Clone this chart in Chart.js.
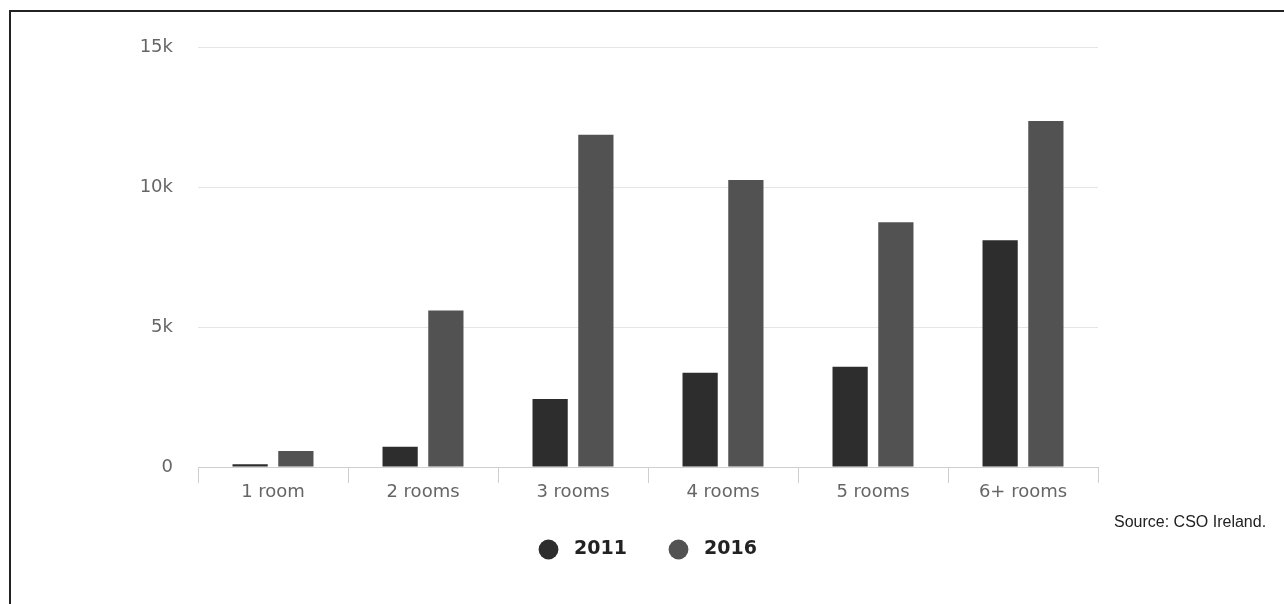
<!DOCTYPE html>
<html>
<head>
<meta charset="utf-8">
<script src="https://cdn.jsdelivr.net/npm/chart.js@4/dist/chart.umd.min.js"></script>
<style>
  html, body { margin: 0; padding: 0; background: #fff; overflow: hidden; }
  body { width: 1284px; height: 604px; position: relative; }
  #frame {
    position: absolute; left: 9px; top: 10px;
    width: 1400px; height: 700px;
    border: 2px solid #222;
  }
  #wrap { position: absolute; left: 0; top: 0; width: 1284px; height: 604px; }
  #source {
    position: absolute; left: 1114px; top: 513px;
    font-family: "Liberation Sans", Arial, sans-serif;
    font-size: 16px; color: #222;
  }
</style>
</head>
<body>
<div id="frame"></div>
<div id="wrap"><canvas id="roomsChart"></canvas></div>
<div id="source">Source: CSO Ireland.</div>
<script>
// 各房型數量
const categories = ['1 room', '2 rooms', '3 rooms', '4 rooms', '5 rooms', '6+ rooms'];
const values2011 = [100, 720, 2430, 3370, 3580, 8100];
const values2016 = [570, 5590, 11870, 10250, 8740, 12360];
const yTicks = [0, 5000, 10000, 15000];

const ctx = document.getElementById('roomsChart').getContext('2d');

const data = {
    labels: categories,
    datasets: [{
        label: '2011',
        data: values2011,
        backgroundColor: '#2d2d2d',
        borderWidth: 0,
        categoryPercentage: 0.61,
        barPercentage: 0.77
    }, {
        label: '2016',
        data: values2016,
        backgroundColor: '#525252',
        borderWidth: 0,
        categoryPercentage: 0.61,
        barPercentage: 0.77
    }]
};

const config = {
    type: 'bar',
    data: data,
    options: {
        responsive: true,
        maintainAspectRatio: false,
        animation: false,
        layout: {
            padding: { left: 0, right: 186, top: 47, bottom: 35 }
        },
        plugins: {
            tooltip: { enabled: false },
            legend: {
                position: 'bottom',
                fullSize: false,
                labels: {
                    usePointStyle: true,
                    pointStyle: 'circle',
                    boxHeight: 14,
                    boxWidth: 20,
                    padding: 42,
                    color: '#222',
                    font: { family: 'DejaVu Sans', size: 19, weight: 'bold' },
                    // 圓點與文字之間多留一點空隙
                    generateLabels: (chart) =>
                        Chart.defaults.plugins.legend.labels.generateLabels(chart)
                            .map(item => ({ ...item, text: ' ' + item.text }))
                }
            }
        },
        scales: {
            x: {
                grid: {
                    offset: true,
                    drawOnChartArea: false,
                    drawTicks: true,
                    tickLength: 16,
                    color: '#cfcfcf'
                },
                border: { display: true, color: '#cfcfcf' },
                ticks: {
                    color: '#666',
                    padding: -1,
                    font: { family: 'DejaVu Sans', size: 18 }
                },
                afterFit: (scale) => { scale.height = 31; }
            },
            y: {
                min: 0,
                max: 15000,
                afterBuildTicks: (scale) => {
                    scale.ticks = yTicks.map(v => ({ value: v }));
                },
                grid: { color: '#e6e6e6', drawTicks: false },
                border: { display: false },
                ticks: {
                    color: '#666',
                    padding: 25,
                    font: { family: 'DejaVu Sans', size: 18 },
                    callback: (v) => v === 0 ? '0' : (v / 1000) + 'k'
                },
                afterFit: (scale) => { scale.width = 198; }
            }
        }
    }
};

const roomsChart = new Chart(ctx, config);
</script>
</body>
</html>
